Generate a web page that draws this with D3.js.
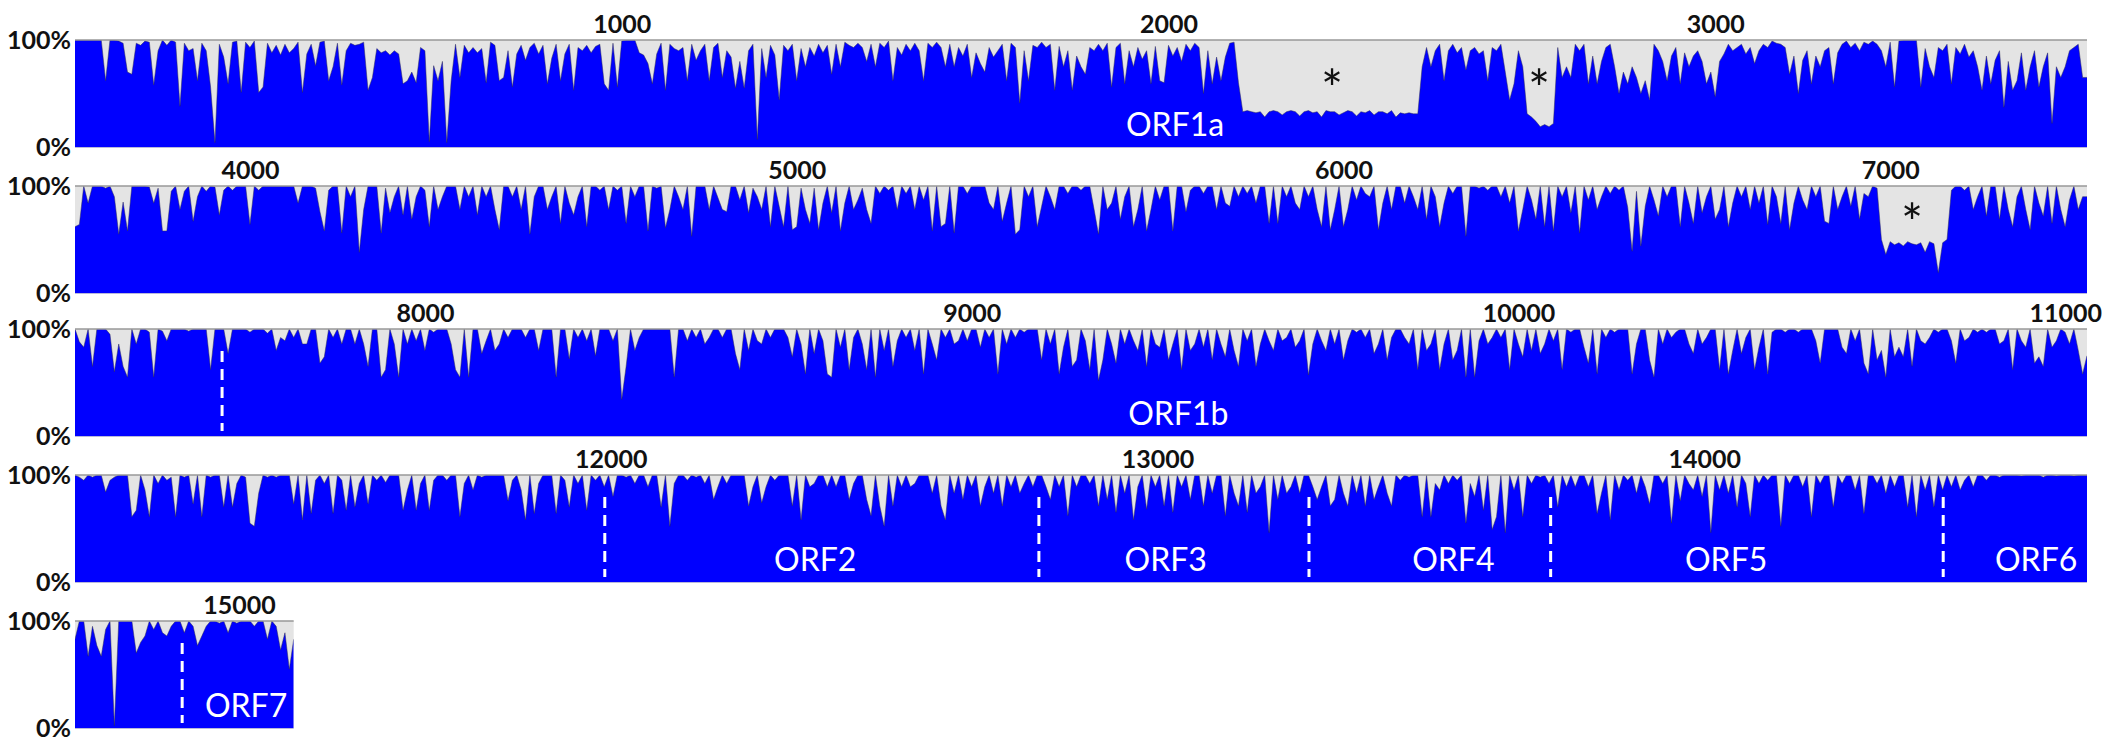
<!DOCTYPE html>
<html>
<head>
<meta charset="utf-8">
<script src="https://cdn.jsdelivr.net/npm/d3@7"></script>
<style>
  body { margin: 0; background: #fff; }
  svg { display: block; }
</style>
</head>
<body>
<div id="chart"></div>
<script>
// genome positions covered by each panel row
const rowStarts = [0, 3680, 7360, 11020, 14700];
const rowEnds = [3680, 7360, 11040, 14700, 15100];
const sampleStep = 8; // positions between two identity samples

// % identity, one value every sampleStep positions
const row1 = [
  100,100,100,100,100,100,100,62,100,100,
  99,97,70,68,97,95,99,98,58,90,
  100,95,100,98,38,97,90,92,62,97,
  90,56,4,96,84,59,98,99,51,98,
  93,99,51,56,97,88,95,86,96,88,
  92,98,51,87,96,76,98,99,62,75,
  97,58,90,97,95,96,98,53,65,92,
  88,90,86,90,87,59,62,70,60,93,
  90,5,76,62,80,4,62,96,65,95,
  88,93,88,92,60,98,95,62,65,90,
  56,87,95,81,93,97,87,95,59,83,
  96,62,87,96,53,93,90,95,88,94,
  96,59,53,97,56,99,100,100,100,88,
  86,78,59,87,97,53,96,92,90,93,
  62,96,81,90,96,62,93,97,65,90,
  84,55,80,55,90,96,7,92,65,95,
  86,44,95,90,96,62,92,75,93,85,
  96,88,95,68,96,75,98,95,93,97,
  93,80,96,75,97,93,99,62,93,86,
  96,90,97,90,62,97,93,98,93,75,
  96,75,93,85,96,65,88,78,70,93,
  84,90,96,62,97,93,41,90,62,95,
  93,98,93,96,53,94,75,90,53,85,
  75,68,93,90,96,90,97,56,93,97,
  59,90,75,93,82,90,59,94,62,60,
  95,85,93,80,96,90,97,93,50,90,
  59,84,62,84,97,98,60,33,34,33,
  32,33,28,33,34,33,30,33,34,33,
  29,33,34,32,33,28,34,33,33,30,
  32,34,33,29,33,32,34,30,33,33,
  31,34,28,32,31,32,31,31,75,93,
  75,90,96,62,90,96,88,93,72,90,
  93,87,90,62,93,90,96,70,44,59,
  90,75,31,28,24,19,21,19,22,93,
  65,75,65,96,90,96,59,85,59,80,
  93,96,75,50,70,59,75,65,50,62,
  44,96,90,80,62,85,93,59,88,75,
  85,90,80,59,70,47,80,87,96,90,
  93,96,87,93,78,90,96,93,99,97,
  96,93,68,85,50,81,90,59,85,75,
  90,93,59,88,96,99,93,97,90,98,
  96,99,96,90,75,98,56,99,100,100,
  100,100,56,92,75,65,93,90,96,59,
  93,87,96,84,90,75,53,85,59,81,
  90,37,80,53,62,88,53,75,90,56,
  75,88,22,75,65,75,90,93,96,65,
  65
];
const row2 = [
  62,64,100,84,100,100,100,98,100,90,
  55,85,58,100,100,100,100,99,84,98,
  58,58,95,100,78,95,100,67,90,100,
  95,100,99,73,96,100,96,100,100,100,
  64,100,96,100,100,100,100,100,100,100,
  100,84,100,100,100,98,76,58,96,100,
  100,56,100,90,100,38,78,100,100,100,
  56,98,75,90,100,73,100,69,90,100,
  96,62,100,78,90,100,100,100,78,100,
  90,100,73,100,90,100,78,59,100,100,
  90,100,78,100,55,90,100,100,78,90,
  100,65,100,84,73,90,100,62,100,100,
  96,100,78,100,96,100,65,100,90,100,
  100,58,100,98,100,61,78,100,90,78,
  100,53,100,100,100,78,100,89,78,76,
  100,100,87,100,75,98,90,78,100,62,
  100,81,62,100,59,62,98,78,65,98,
  59,84,100,75,100,58,84,100,78,87,
  98,78,65,100,93,100,96,100,78,100,
  93,100,78,100,87,100,58,100,62,65,
  100,56,100,100,93,100,100,100,100,84,
  78,100,67,84,100,55,59,100,90,100,
  62,81,100,90,78,100,100,93,100,100,
  96,100,100,78,55,100,78,84,100,69,
  90,100,62,78,100,58,78,100,87,100,
  100,58,100,100,76,96,100,100,93,100,
  100,78,100,84,81,100,90,100,93,100,
  84,100,100,65,100,65,100,90,100,84,
  78,100,90,100,78,62,100,59,78,100,
  62,78,100,87,100,93,90,100,59,84,
  100,78,100,100,84,100,90,78,100,69,
  100,90,62,84,100,93,100,100,53,100,
  100,98,100,96,100,100,90,100,84,100,
  58,78,100,87,69,100,62,100,58,100,
  90,100,75,100,56,100,87,100,78,90,
  100,93,100,96,100,80,39,95,44,81,
  100,87,72,100,90,100,100,62,100,84,
  65,100,75,90,100,69,78,100,62,84,
  100,90,100,78,100,84,100,64,100,90,
  65,100,59,84,100,87,78,100,90,100,
  67,65,100,78,90,100,81,100,69,93,
  90,100,98,50,36,48,45,47,44,48,
  46,45,47,38,48,46,19,47,50,96,
  100,100,96,100,78,90,100,72,100,100,
  69,100,78,62,90,100,78,59,100,84,
  72,100,65,100,78,62,87,100,78,90,
  90
];
const row3 = [
  100,88,83,100,65,100,100,100,95,60,
  86,65,55,100,86,100,100,97,55,100,
  98,89,100,100,100,100,98,100,100,100,
  100,62,100,100,100,77,100,100,100,100,
  97,100,100,100,96,100,80,92,89,100,
  92,100,86,86,100,100,68,74,100,92,
  100,86,100,100,86,100,86,65,100,100,
  55,62,100,86,55,100,86,100,89,100,
  80,100,97,100,100,100,86,62,55,100,
  55,100,100,77,89,100,80,86,100,92,
  100,100,100,92,100,100,80,100,100,100,
  55,100,100,72,100,92,100,89,100,75,
  100,100,100,89,100,34,65,100,80,92,
  100,100,100,100,100,100,100,55,100,100,
  89,100,92,100,86,92,100,100,92,100,
  100,77,62,100,80,100,89,86,100,92,
  100,100,100,92,74,100,86,58,100,77,
  100,89,58,55,100,83,100,62,92,100,
  86,62,100,55,100,80,100,65,89,100,
  92,100,80,100,58,100,86,71,100,92,
  100,86,89,100,89,100,100,83,100,92,
  100,58,100,86,100,92,100,97,100,100,
  100,71,100,86,100,58,83,100,65,71,
  100,89,62,100,52,71,100,86,68,100,
  86,100,89,80,100,65,100,86,83,100,
  71,86,100,62,100,80,86,100,83,100,
  71,100,86,74,100,80,65,100,89,100,
  65,86,100,89,80,100,89,92,100,83,
  89,100,57,86,100,89,80,100,86,100,
  71,89,100,97,100,92,100,77,86,100,
  71,92,100,100,92,86,100,62,100,80,
  86,100,62,86,100,71,80,100,55,100,
  55,89,100,86,92,100,92,100,62,100,
  86,74,100,80,100,77,86,100,89,100,
  62,100,97,100,100,83,68,100,58,100,
  92,100,97,100,100,100,58,86,100,100,
  71,55,100,86,100,92,97,100,100,86,
  77,100,86,92,100,100,62,100,58,80,
  100,77,92,100,62,83,100,58,97,100,
  100,97,100,100,97,100,100,100,89,68,
  100,100,100,100,83,77,100,89,100,68,
  58,100,71,80,55,100,74,83,74,100,
  65,100,89,86,92,100,97,100,100,89,
  68,100,89,92,100,97,100,97,100,100,
  86,89,100,62,100,89,83,100,68,74,
  65,100,83,89,100,97,86,100,80,58,
  75
];
const row4 = [
  100,98,95,100,98,100,100,84,95,98,
  100,100,100,61,67,100,86,61,100,92,
  100,95,98,61,100,98,100,73,100,61,
  100,98,100,100,70,100,70,92,100,98,
  55,52,83,100,98,100,98,100,100,100,
  73,100,58,100,64,95,100,92,100,64,
  100,95,67,100,70,92,100,73,100,95,
  100,93,100,100,100,67,86,100,67,92,
  100,67,95,100,100,95,100,100,61,92,
  100,86,100,98,100,100,100,100,100,76,
  95,100,86,58,100,64,92,100,100,100,
  64,100,95,70,100,92,100,67,100,95,
  100,89,100,80,100,100,98,100,92,100,
  100,89,100,100,70,100,52,92,100,100,
  95,100,98,100,92,100,77,89,100,92,
  100,100,100,100,71,89,100,74,89,100,
  95,100,100,100,71,100,58,100,89,92,
  100,100,89,100,89,100,100,77,92,100,
  100,77,62,100,71,52,100,71,100,89,
  100,89,92,100,100,100,83,100,71,58,
  100,83,100,77,100,89,100,71,89,100,
  83,100,71,100,89,100,83,92,100,89,
  100,100,89,77,100,89,100,62,100,89,
  100,100,92,100,71,100,77,100,65,100,
  83,100,58,89,100,68,100,89,100,71,
  100,65,100,89,100,77,100,100,71,100,
  83,100,100,62,100,83,71,100,65,100,
  83,89,100,46,100,77,100,83,89,100,
  83,100,100,89,77,89,100,71,77,100,
  83,71,100,83,100,71,100,77,89,100,
  83,71,100,95,100,98,100,100,61,100,
  61,92,86,100,92,100,95,100,55,92,
  80,100,67,100,49,61,100,46,100,86,
  100,61,100,92,100,98,100,92,100,70,
  100,89,100,89,100,100,89,100,64,83,
  100,58,100,86,100,95,100,83,100,89,
  73,100,100,92,100,55,100,76,100,92,
  86,100,80,100,46,100,86,100,83,100,
  70,100,92,61,100,92,100,95,100,100,
  52,100,92,100,100,89,100,61,100,92,
  100,100,70,100,92,100,100,86,100,64,
  100,100,92,100,83,100,89,100,100,70,
  100,61,100,86,100,70,100,86,100,89,
  100,86,95,100,89,100,100,95,100,100,
  98,100,100,100,100,99,100,100,100,100,
  98,100,100,99,100,100,100,99,100,100,
  100
];
const row5 = [
  83,100,100,67,95,77,67,92,100,2,
  100,100,100,100,70,80,86,100,92,100,
  89,86,95,100,100,89,100,95,77,86,
  95,100,100,98,100,89,100,98,100,100,
  100,95,100,100,83,100,95,73,89,55,
  83
];

// axis labels
const tickLabels = [1000, 2000, 3000, 4000, 5000, 6000, 7000, 8000, 9000, 10000, 11000, 12000, 13000, 14000, 15000];
const yLabels = [0, 100];

// reading frames: label centre and boundary positions
const orfNames = ['ORF1a', 'ORF1b', 'ORF2', 'ORF3', 'ORF4', 'ORF5', 'ORF6', 'ORF7'];
const orfLabelPos = [2012, 9378, 12374, 13015, 13541, 14040, 14607, 15013];
const orfStarts = [7629, 11989, 12783, 13277, 13719, 14437, 14896];

// gap regions marked with an asterisk
const gapMarkPos = [2299, 2678, 7040];
const gapMarkPct = [64, 64, 75];

const W = 2110, H = 741;
const plotLeft = 75;
const pxPerPos = 2012 / 3680;
const rowTops = [40, 186, 329, 475, 621];
const rowHeight = 107;
const blue = '#0000ff';
const gapGray = '#e4e4e4';

const svg = d3.select('#chart')
    .append('svg')
    .attr('width', W)
    .attr('height', H)
    .style('font-family', 'Lato, "Open Sans", sans-serif');

const rows = [row1, row2, row3, row4, row5];

rows.forEach((values, r) => {
  const start = rowStarts[r];
  const end = rowEnds[r];
  const inRow = p => p >= start && p <= end;

  const x = d3.scaleLinear()
      .domain([start, end])
      .range([plotLeft, plotLeft + (end - start) * pxPerPos]);
  const y = d3.scaleLinear()
      .domain([0, 100])
      .range([rowTops[r] + rowHeight, rowTops[r]]);
  const [x0, x1] = x.range();

  const g = svg.append('g');

  g.append('clipPath')
      .attr('id', 'clip' + r)
      .append('rect')
      .attr('x', x0).attr('y', y(100))
      .attr('width', x1 - x0).attr('height', y(0) - y(100));

  g.append('rect')
      .attr('x', x0).attr('y', y(100))
      .attr('width', x1 - x0).attr('height', y(0) - y(100))
      .attr('fill', gapGray);

  const area = d3.area()
      .x((d, i) => x(start + i * sampleStep))
      .y0(y(0))
      .y1(d => y(d));
  const edge = d3.line()
      .x((d, i) => x(start + i * sampleStep))
      .y(d => y(d));

  const plot = g.append('g').attr('clip-path', `url(#clip${r})`);
  plot.append('path')
      .datum(values)
      .attr('d', area)
      .attr('fill', blue);
  plot.append('path')
      .datum(values)
      .attr('d', edge)
      .attr('fill', 'none')
      .attr('stroke', '#2a2a55')
      .attr('stroke-opacity', 0.7)
      .attr('stroke-width', 0.7);

  g.append('line')
      .attr('x1', x0).attr('x2', x1)
      .attr('y1', y(100)).attr('y2', y(100))
      .attr('stroke', '#999')
      .attr('stroke-width', 1.5);
  g.append('line')
      .attr('x1', x0).attr('x2', x1)
      .attr('y1', y(0) + 0.5).attr('y2', y(0) + 0.5)
      .attr('stroke', '#b8b8dc')
      .attr('stroke-width', 1);

  // ORF boundaries
  g.selectAll('.orf-line')
      .data(orfStarts.filter(inRow))
      .enter().append('line')
      .attr('x1', d => x(d)).attr('x2', d => x(d))
      .attr('y1', y(100) + 22).attr('y2', y(0) - 5)
      .attr('stroke', '#fff')
      .attr('stroke-width', 3)
      .attr('stroke-dasharray', '11,7');

  g.selectAll('.orf-label')
      .data(orfNames.map((n, i) => ({name: n, pos: orfLabelPos[i]})).filter(d => inRow(d.pos)))
      .enter().append('text')
      .attr('x', d => x(d.pos))
      .attr('y', y(0) - 11)
      .attr('text-anchor', 'middle')
      .attr('fill', '#fff')
      .attr('font-size', '32px')
      .text(d => d.name);

  g.selectAll('.gap-mark')
      .data(gapMarkPos.map((p, i) => ({pos: p, pct: gapMarkPct[i]})).filter(d => inRow(d.pos)))
      .enter().append('text')
      .attr('x', d => x(d.pos))
      .attr('y', d => y(d.pct) + 29)
      .attr('text-anchor', 'middle')
      .attr('fill', '#111')
      .attr('font-size', '52px')
      .text('*');

  // position labels above the row
  g.append('g')
      .attr('transform', `translate(0,${y(100)})`)
      .call(d3.axisTop(x).tickValues(tickLabels.filter(inRow)).tickSize(0).tickPadding(7).tickFormat(d3.format('d')))
      .call(a => a.select('.domain').remove())
      .selectAll('text')
      .attr('fill', '#111')
      .attr('font-size', '25px')
      .attr('font-weight', 'bold')
      .attr('font-family', 'Lato, sans-serif');

  g.append('g')
      .attr('transform', `translate(${x0},0)`)
      .call(d3.axisLeft(y).tickValues(yLabels).tickSize(0).tickPadding(4).tickFormat(d => d + '%'))
      .call(a => a.select('.domain').remove())
      .selectAll('text')
      .attr('fill', '#111')
      .attr('font-size', '25px')
      .attr('font-weight', 'bold')
      .attr('font-family', 'Lato, sans-serif');
});
</script>
</body>
</html>
